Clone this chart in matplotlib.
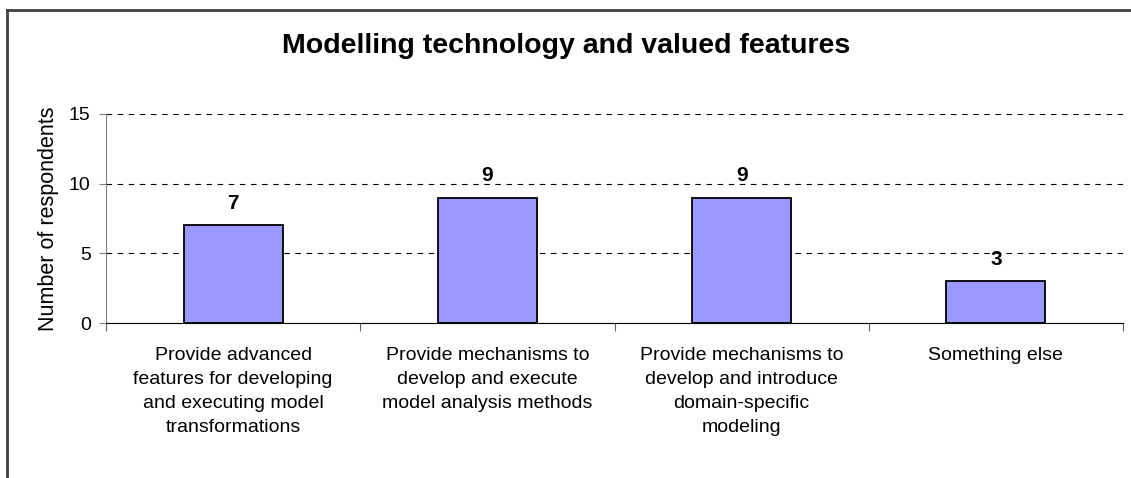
import numpy as np
import matplotlib.pyplot as plt
from matplotlib.lines import Line2D

categories = [
    "Provide advanced\nfeatures for developing\nand executing model\ntransformations",
    "Provide mechanisms to\ndevelop and execute\nmodel analysis methods",
    "Provide mechanisms to\ndevelop and introduce\ndomain-specific\nmodeling",
    "Something else",
]
counts = [7, 9, 9, 3]
yticks = [0, 5, 10, 15]


def main() -> None:
    plt.rcParams['font.family'] = ['Liberation Sans', 'DejaVu Sans']
    W, H = 1131, 478
    fig = plt.figure(figsize=(W / 100, H / 100), dpi=100)
    ax = fig.add_axes([106 / W, 1 - 323 / H, (1123 - 106) / W, (323 - 114) / H])

    x = np.arange(len(counts))
    ax.bar(x, counts, width=0.39, color='#9999ff', edgecolor='black', linewidth=1.3, zorder=3)
    for xi, c in zip(x, counts):
        ax.annotate(str(c), (xi, c), xytext=(0, 9), textcoords='offset points',
                    ha='center', va='bottom', fontsize=15, fontweight='bold')

    ax.set_xlim(-0.5, len(counts) - 0.5)
    ax.set_ylim(0, 15)
    ax.set_yticks(yticks)
    ax.tick_params(axis='y', labelsize=14, length=5, color='#808080', pad=6)
    ax.yaxis.grid(True, color='black', linestyle=(0, (5, 5)), linewidth=0.8)
    ax.set_axisbelow(True)

    # category labels centred, ticks between categories
    ax.set_xticks(np.arange(len(counts) + 1) - 0.5)
    ax.set_xticklabels([])
    ax.tick_params(axis='x', length=6, color='#606060')
    for xi, lab in zip(x, categories):
        ax.text(xi, -0.115, lab, transform=ax.get_xaxis_transform(), ha='center', va='top',
                fontsize=14, linespacing=1.55)

    for s in ['top', 'right']:
        ax.spines[s].set_visible(False)
    ax.spines['left'].set_color('#808080')
    ax.spines['bottom'].set_color('black')

    ax.set_ylabel('Number of respondents', fontsize=15.5, labelpad=7)
    fig.text(566 / W, 1 - 46 / H, 'Modelling technology and valued features',
             ha='center', va='center', fontsize=20.5, fontweight='bold')

    # outer chart frame (only top and left edges visible)
    fig.add_artist(Line2D([7 / W, 1], [1 - 10 / H, 1 - 10 / H], color='#404040', linewidth=2))
    fig.add_artist(Line2D([7 / W, 7 / W], [0, 1 - 10 / H], color='#404040', linewidth=2))

    fig.savefig('out.png', dpi=100)


if __name__ == '__main__':
    main()
